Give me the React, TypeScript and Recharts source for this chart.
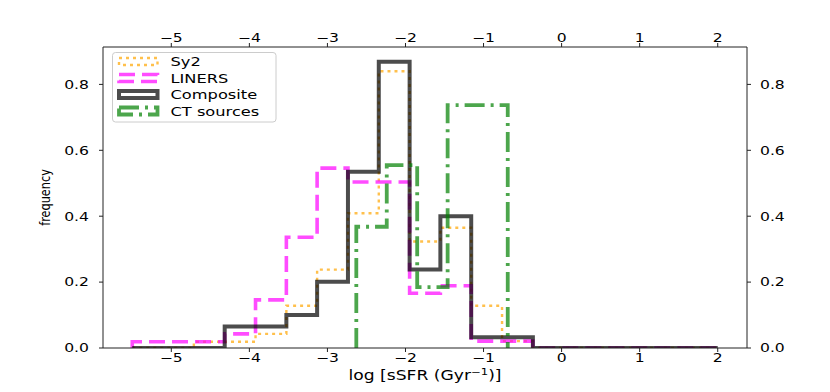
import { ComposedChart, Line, XAxis, YAxis } from "recharts";

// histogram bin edges shared by Sy2 / LINERS / Composite (19 bins over [-5.5, 2])
const binEdges = [
  -5.5, -5.105, -4.711, -4.316, -3.921, -3.526, -3.132, -2.737, -2.342, -1.947,
  -1.553, -1.158, -0.763, -0.368, 0.026, 0.421, 0.816, 1.211, 1.605, 2.0,
];
const sy2 = [0, 0, 0.019, 0.019, 0.043, 0.128, 0.238, 0.409, 0.84, 0.323, 0.365, 0.128, 0.021, 0, 0, 0, 0, 0, 0];
const liners = [0.019, 0.019, 0.019, 0.043, 0.146, 0.336, 0.546, 0.504, 0.504, 0.166, 0.189, 0.021, 0.021, 0, 0, 0, 0, 0, 0];
const composite = [0, 0, 0, 0.065, 0.065, 0.1, 0.201, 0.535, 0.869, 0.238, 0.4, 0.033, 0.033, 0, 0, 0, 0, 0, 0];

// CT sources were binned on their own range
const ctEdges = [-2.63, -2.24, -1.85, -1.46, -1.08, -0.69];
const ctSources = [0.368, 0.555, 0.185, 0.737, 0.737];

const xTicks = [-5, -4, -3, -2, -1, 0, 1, 2];
const yTicks = [0, 0.2, 0.4, 0.6, 0.8];

const FONT = "DejaVu Sans";
const STRETCH = 1.3;
const W = 830;
const H = 392;
const PLOT = { left: 103, right: 747, top: 47, bottom: 348 };
const Y_MAX = 0.9135;

type Pt = { x: number; y: number };

// outline of a step histogram: up from baseline, across each bin, back down
function stepData(edges: number[], values: number[]): Pt[] {
  const pts: Pt[] = [{ x: edges[0], y: 0 }];
  values.forEach((v, i) => pts.push({ x: edges[i], y: v }));
  pts.push({ x: edges[edges.length - 1], y: values[values.length - 1] });
  pts.push({ x: edges[edges.length - 1], y: 0 });
  return pts;
}

const fmtX = (v: number) => (v < 0 ? "\u2212" + Math.abs(v) : String(v));
const fmtY = (v: number) => v.toFixed(1);

function XTick({ x, payload, top }: any) {
  const y = top ? 37.5 : 357.5;
  return (
    <g transform={`translate(${x},${y}) scale(${STRETCH},1)`}>
      <text textAnchor="middle" dy="0.36em" fontFamily={FONT} fontSize={12} fill="#000">
        {fmtX(payload.value)}
      </text>
    </g>
  );
}

function YTick({ y, payload, right }: any) {
  const x = right ? 760 : 89;
  return (
    <g transform={`translate(${x},${y}) scale(${STRETCH},1)`}>
      <text textAnchor={right ? "start" : "end"} dy="0.36em" fontFamily={FONT} fontSize={12} fill="#000">
        {fmtY(payload.value)}
      </text>
    </g>
  );
}

const series = [
  { name: "Sy2", data: stepData(binEdges, sy2), color: "#FFA500", width: 2.4, dash: "3 4" },
  { name: "LINERS", data: stepData(binEdges, liners), color: "#FF00FF", width: 3.6, dash: "16 7" },
  { name: "Composite", data: stepData(binEdges, composite), color: "#000000", width: 4, dash: undefined },
  { name: "CT sources", data: stepData(ctEdges, ctSources), color: "#008000", width: 3.8, dash: "20 6 3 6" },
];

function Overlay() {
  const rows = [61.5, 78, 94.5, 111];
  return (
    <svg width={W} height={H} style={{ position: "absolute", left: 0, top: 0, pointerEvents: "none" }}>
      <rect x={112.5} y={52.5} width={163.5} height={69.5} rx={3} fill="#fff" fillOpacity={0.8} stroke="#cccccc" />
      {series.map((s, i) => (
        <g key={s.name}>
          <rect
            x={119}
            y={rows[i] - 3.5}
            width={38.5}
            height={7}
            fill="none"
            stroke={s.color}
            strokeOpacity={0.7}
            strokeWidth={s.width}
            strokeDasharray={s.dash}
          />
          <g transform={`translate(170.5,${rows[i]}) scale(${STRETCH},1)`}>
            <text dy="0.36em" fontFamily={FONT} fontSize={12.5} fill="#000">
              {s.name}
            </text>
          </g>
        </g>
      ))}
      <g transform={`translate(${(PLOT.left + PLOT.right) / 2},375) scale(${STRETCH},1)`}>
        <text textAnchor="middle" dy="0.36em" fontFamily={FONT} fontSize={13.2} fill="#000">
          log [sSFR (Gyr
          <tspan dy={-5} fontSize={9}>{"\u22121"}</tspan>
          <tspan dy={5}>)]</tspan>
        </text>
      </g>
      <g transform={`translate(45,${(PLOT.top + PLOT.bottom) / 2}) scale(${STRETCH},1) rotate(-90)`}>
        <text textAnchor="middle" dy="0.36em" fontFamily={FONT} fontSize={11.3} fill="#000">
          frequency
        </text>
      </g>
    </svg>
  );
}

export default function App() {
  const axisStroke = "#222";
  return (
    <div style={{ position: "absolute", left: 0, top: 0, width: W, height: H, background: "#fff" }}>
      <ComposedChart
        width={W}
        height={H}
        margin={{ top: PLOT.top - 30, right: W - PLOT.right - 50, bottom: H - PLOT.bottom - 30, left: PLOT.left - 50 }}
      >
        <XAxis
          xAxisId="b"
          dataKey="x"
          type="number"
          domain={[-5.875, 2.375]}
          ticks={xTicks}
          allowDataOverflow
          height={30}
          stroke={axisStroke}
          tickSize={4}
          tick={<XTick />}
          interval={0}
        />
        <XAxis
          xAxisId="t"
          orientation="top"
          dataKey="x"
          type="number"
          domain={[-5.875, 2.375]}
          ticks={xTicks}
          allowDataOverflow
          height={30}
          stroke={axisStroke}
          tickSize={4}
          tick={<XTick top />}
          interval={0}
        />
        <YAxis
          yAxisId="l"
          type="number"
          domain={[0, Y_MAX]}
          ticks={yTicks}
          allowDataOverflow
          width={50}
          stroke={axisStroke}
          tickSize={4}
          tick={<YTick />}
          interval={0}
        />
        <YAxis
          yAxisId="r"
          orientation="right"
          type="number"
          domain={[0, Y_MAX]}
          ticks={yTicks}
          allowDataOverflow
          width={50}
          stroke={axisStroke}
          tickSize={4}
          tick={<YTick right />}
          interval={0}
        />
        {series.map((s) => (
          <Line
            key={s.name}
            xAxisId="b"
            yAxisId="l"
            data={s.data}
            dataKey="y"
            type="stepAfter"
            stroke={s.color}
            strokeOpacity={0.7}
            strokeWidth={s.width}
            strokeDasharray={s.dash}
            strokeLinejoin="miter"
            dot={false}
            activeDot={false}
            isAnimationActive={false}
          />
        ))}
      </ComposedChart>
      <Overlay />
    </div>
  );
}
